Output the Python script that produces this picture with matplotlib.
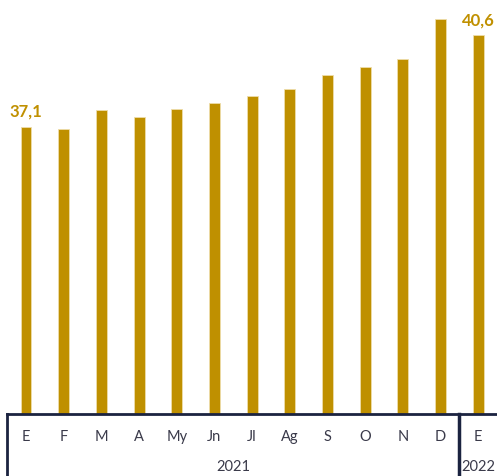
import matplotlib
matplotlib.use("Agg")
import matplotlib.pyplot as plt
from matplotlib.lines import Line2D

months = ["E", "F", "M", "A", "My", "Jn", "Jl", "Ag", "S", "O", "N", "D", "E"]
years = ["2021", "2022"]
year_counts = [12, 1]
values = [37.1, 37.0, 37.74, 37.48, 37.77, 38.02, 38.26, 38.56, 39.09, 39.40, 39.68, 41.21, 40.6]
label_idx = [0, 12]
label_text = ["37,1", "40,6"]

W, H = 497, 476
fig = plt.figure(figsize=(W / 100, H / 100), dpi=100)
axis_px = 414
ax = fig.add_axes([0, 1 - axis_px / H, 1, axis_px / H])

bar_color = "#BF9000"
x = list(range(len(values)))
ax.bar(x, values, width=0.29, color=bar_color, edgecolor="#EEDDAA", linewidth=0.6)
ax.set_xlim(-0.69, 12.5)
ax.set_ylim(26.1, 41.95)
ax.axis("off")

for i, t in zip(label_idx, label_text):
    ax.annotate(t, (i, values[i]), xytext=(0, 5), textcoords="offset points",
                ha="center", va="bottom", fontsize=12, fontweight="bold",
                color="#C09000", family="Lato", annotation_clip=False)

# category axis table
line_col = "#1B2340"
def fx(v):
    # data x to figure fraction
    return (v + 0.69) / (12.5 + 0.69)

yt = 1 - axis_px / H
fig.add_artist(Line2D([fx(-0.5), 1], [yt, yt], color=line_col, lw=2, transform=fig.transFigure))
fig.add_artist(Line2D([fx(-0.5), fx(-0.5)], [yt, 0], color=line_col, lw=2, transform=fig.transFigure))
fig.add_artist(Line2D([fx(11.5), fx(11.5)], [yt, 0], color=line_col, lw=2.5, transform=fig.transFigure))

txt_col = "#3A3A4A"
for i, m in enumerate(months):
    fig.text(fx(i), 1 - 437 / H, m, ha="center", va="center", fontsize=10.5,
             color=txt_col, family="Lato")

start = 0
for y, c in zip(years, year_counts):
    center = start + (c - 1) / 2
    fig.text(fx(center), 1 - 467 / H, y, ha="center", va="center", fontsize=10.5,
             color=txt_col, family="Lato")
    start += c

fig.savefig("out.png", dpi=100)
